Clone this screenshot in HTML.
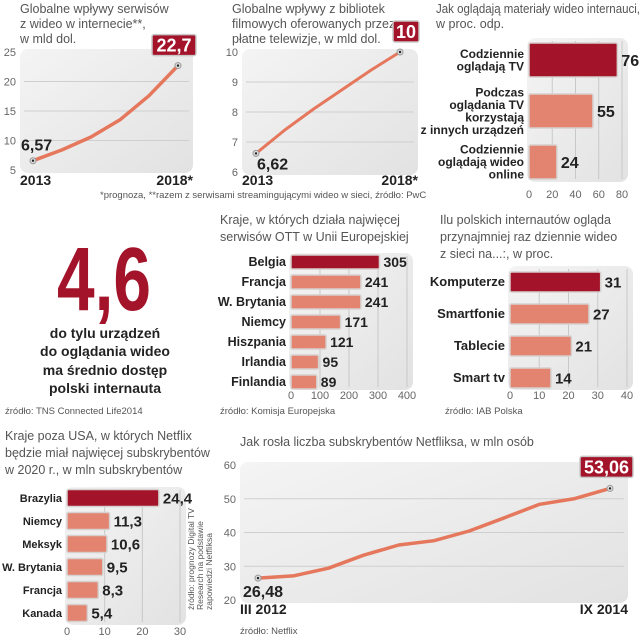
<!DOCTYPE html>
<html><head><meta charset="utf-8">
<style>
html,body{margin:0;padding:0;background:#fff;}
svg{display:block;font-family:"Liberation Sans Narrow","Liberation Sans",sans-serif;}
.t{fill:#555;font-size:12.5px;}
.ax{fill:#666;font-size:11px;}
.b{fill:#222;font-weight:bold;}
.v{fill:#222;font-weight:bold;}
.src{fill:#555;}
</style></head>
<body>
<svg id="s" width="642" height="640" viewBox="0 0 642 640">
<defs>
<linearGradient id="pg" x1="0" y1="0" x2="1" y2="1"><stop offset="0" stop-color="#f4f4f4"/><stop offset="1" stop-color="#e2e2e2"/></linearGradient>
</defs>
<g><text class="t" x="20" y="13">Globalne wpływy serwisów</text><text class="t" x="20" y="28">z wideo w internecie**,</text><text class="t" x="20" y="43">w mld dol.</text></g>
<g><text class="t" x="232" y="13">Globalne wpływy z bibliotek</text><text class="t" x="232" y="28">filmowych oferowanych przez</text><text class="t" x="232" y="43">płatne telewizje, w mld dol.</text></g>
<g><text class="t" x="436" y="13" textLength="204" lengthAdjust="spacingAndGlyphs">Jak oglądają materiały wideo internauci,</text><text class="t" x="436" y="28">w proc. odp.</text></g>
<text class="src" style="font-size:9.5px" x="100" y="198">*prognoza, **razem z serwisami streamingującymi wideo w sieci, źródło: PwC</text>
<g>
<text x="104" y="310" text-anchor="middle" fill="#a3142a" font-weight="bold" font-size="90" textLength="94" lengthAdjust="spacingAndGlyphs">4,6</text>
<text class="b" style="font-size:14px" x="105" y="338" text-anchor="middle">do tylu urządzeń</text>
<text class="b" style="font-size:14px" x="105" y="356" text-anchor="middle">do oglądania wideo</text>
<text class="b" style="font-size:14px" x="105" y="375" text-anchor="middle">ma średnio dostęp</text>
<text class="b" style="font-size:14px" x="105" y="393" text-anchor="middle">polski internauta</text>
<text class="src" style="font-size:9.5px" x="5" y="414">źródło: TNS Connected Life2014</text>
</g>
<g><text class="t" x="220" y="224">Kraje, w których działa najwięcej</text><text class="t" x="220" y="241">serwisów OTT w Unii Europejskiej</text></g>
<text class="src" style="font-size:9.5px" x="220" y="414">źródło: Komisja Europejska</text>
<g><text class="t" x="440" y="224">Ilu polskich internautów ogląda</text><text class="t" x="440" y="241">przynajmniej raz dziennie wideo</text><text class="t" x="440" y="258">z sieci na...:, w proc.</text></g>
<text class="src" style="font-size:9.5px" x="445" y="414">źródło: IAB Polska</text>
<g><text class="t" x="5" y="440">Kraje poza USA, w których Netflix</text><text class="t" x="5" y="457">będzie miał najwięcej subskrybentów</text><text class="t" x="5" y="474">w 2020 r., w mln subskrybentów</text></g>
<g transform="translate(206,610) rotate(-90)">
<text class="src" style="font-size:8.5px" x="0" y="-12">źródło: prognozy Digital TV</text><text class="src" style="font-size:8.5px" x="0" y="-3">Research na podstawie</text><text class="src" style="font-size:8.5px" x="0" y="6">zapowiedzi Netfliksa</text></g>
<text class="t" x="240" y="446">Jak rosła liczba subskrybentów Netfliksa, w mln osób</text>
<text class="src" style="font-size:9.5px" x="240" y="634">źródło: Netflix</text>
</svg>
<script>
const c1Years=['2013','2014','2015','2016','2017','2018*'];
const c1Values=[6.57,8.4,10.6,13.5,17.6,22.7];
const c1Ticks=[5,10,15,20,25];
const c2Years=['2013','2014','2015','2016','2017','2018*'];
const c2Values=[6.62,7.4,8.1,8.75,9.4,10];
const c2Ticks=[6,7,8,9,10];
const c3Labels=[['Codziennie','oglądają TV'],['Podczas','oglądania TV','korzystają','z innych urządzeń'],['Codziennie','oglądają wideo','online']];
const c3Values=[76,55,24];
const c3Ticks=[0,20,40,60,80];
const ottCountries=['Belgia','Francja','W. Brytania','Niemcy','Hiszpania','Irlandia','Finlandia'];
const ottValues=[305,241,241,171,121,95,89];
const ottTicks=[0,100,200,300,400];
const devLabels=['Komputerze','Smartfonie','Tablecie','Smart tv'];
const devValues=[31,27,21,14];
const devTicks=[0,10,20,30,40];
const nfxCountries=['Brazylia','Niemcy','Meksyk','W. Brytania','Francja','Kanada'];
const nfxValues=[24.4,11.3,10.6,9.5,8.3,5.4];
const nfxTicks=[0,10,20,30];
const subsQuarters=['III 2012','VI 2012','IX 2012','XII 2012','III 2013','VI 2013','IX 2013','XII 2013','III 2014','VI 2014','IX 2014'];
const subsValues=[26.48,27.15,29.41,33.27,36.31,37.56,40.43,44.35,48.35,50.05,53.06];
const subsTicks=[20,30,40,50,60];

const NS='http://www.w3.org/2000/svg';
const svg=document.getElementById('s');
function mk(tag,attrs,txt){const e=document.createElementNS(NS,tag);for(const k in attrs)e.setAttribute(k,attrs[k]);if(txt!==undefined)e.textContent=txt;svg.appendChild(e);return e;}
function fmt(v){return String(v).replace('.',',');}
const DARK='#a3142a',LIGHT='#e38470',LINE='#e5775c';

function lineChart(p,years,vals,ticks,name){
  const y=v=>p.y1-(v-ticks[0])/(ticks[ticks.length-1]-ticks[0])*(p.y1-p.y0);
  const x=i=>p.px0+i/(vals.length-1)*(p.px1-p.px0);
  let e=mk('rect',{x:p.bx0,y:p.y0-3,width:p.bx1-p.bx0,height:p.y1-p.y0+6,rx:8,fill:'url(#pg)'});
  
  
  ticks.forEach(t=>{
    if(t!==ticks[0]&&t!==ticks[ticks.length-1]){
      const g=mk('line',{x1:p.bx0+4,x2:p.bx1-4,y1:y(t),y2:y(t),stroke:'#cfcfcf','stroke-width':1});
      
      
    }
    const l=mk('text',{x:p.lx,y:y(t)+4,'text-anchor':'end',class:'ax'},String(t));
    
    
  });
  let d='';vals.forEach((v,i)=>{d+=(i?'L':'M')+x(i).toFixed(1)+','+y(v).toFixed(1);});
  const pa=mk('path',{d:d,fill:'none',stroke:LINE,'stroke-width':p.sw||3.5,'stroke-linejoin':'round','stroke-linecap':'round'});
  
  
  [0,vals.length-1].forEach(i=>{
    const c=mk('circle',{cx:x(i),cy:y(vals[i]),r:3,fill:'#ddd',stroke:'#999','stroke-width':1});
    
    
    const c2=mk('circle',{cx:x(i),cy:y(vals[i]),r:1.2,fill:'#222'});
    
    
  });
  const f=mk('text',{x:x(0)+p.fdx,y:y(vals[0])+p.fdy,class:'v',style:'font-size:16px'},fmt(vals[0]));
  
  
  const lv=fmt(vals[vals.length-1]);
  const w=lv.length*p.cw+8;
  const bx=p.boxR-w, by=y(vals[vals.length-1])+p.bdy;
  const r=mk('rect',{x:bx,y:by,width:w,height:21,rx:2,fill:DARK,stroke:'#c9c9c9','stroke-width':1.5});
  
  
  const lt=mk('text',{x:bx+w/2,y:by+17,'text-anchor':'middle',fill:'#fff','font-weight':'bold','font-size':18},lv);
  
  
  const a=mk('text',{x:p.bx0,y:p.ly,class:'b',style:'font-size:14px'},years[0]);
  
  
  const b=mk('text',{x:p.bx1,y:p.ly,class:'b','text-anchor':'end',style:'font-size:14px'},years[years.length-1]);
  
  
}
lineChart({bx0:20,bx1:193,y0:52,y1:170,px0:33,px1:178,lx:16,fdx:-12,fdy:-10,boxR:196,bdy:-31,cw:9,ly:185},c1Years,c1Values,c1Ticks,'chart1');
lineChart({bx0:242,bx1:418,y0:52,y1:172,px0:256,px1:400,lx:238,fdx:1,fdy:16,boxR:419,bdy:-31,cw:9,ly:185,sw:3},c2Years,c2Values,c2Ticks,'chart2');
lineChart({bx0:240,bx1:628,y0:465,y1:600,px0:258,px1:610,lx:236,fdx:-15,fdy:19,boxR:633,bdy:-32,cw:9,ly:614},[subsQuarters[0],'','',subsQuarters[subsQuarters.length-1]],subsValues,subsTicks,'subscribers');

function barChart(p,labels,vals,ticks,name){
  const max=ticks[ticks.length-1];
  const x=v=>p.x0+v/max*(p.x1-p.x0);
  let e=mk('rect',{x:p.x0-2,y:p.py0,width:p.x1-p.x0+8,height:p.py1-p.py0,rx:8,fill:'url(#pg)'});
  
  
  ticks.forEach(t=>{
    if(t>0){const g=mk('line',{x1:x(t),x2:x(t),y1:p.py0+3,y2:p.py1-3,stroke:'#c8c8c8','stroke-width':1});
    
    }
    const l=mk('text',{x:x(t),y:p.ty,'text-anchor':'middle',class:'ax'},String(t));
    
    
  });
  vals.forEach((v,i)=>{
    const cy=p.c0+i*p.step;
    const r=mk('rect',{x:x(0),y:cy-p.h/2,width:x(v)-x(0),height:p.h,rx:1.5,fill:i===0?DARK:LIGHT,stroke:'#d6d0ce','stroke-width':1.5});
    
    
    const vt=mk('text',{x:x(v)+4,y:cy+p.vfs*0.36,class:'v',style:'font-size:'+p.vfs+'px'},fmt(v));
    
    
    const lines=Array.isArray(labels[i])?labels[i]:[labels[i]];
    lines.forEach((ln,j)=>{
      const ly=cy+(j-(lines.length-1)/2)*p.lh+4;
      const t=mk('text',{x:x(0)-5,y:ly,'text-anchor':'end',class:'b',style:'font-size:'+p.lfs+'px'},ln);
      
      
    });
  });
}
barChart({x0:529,x1:622,py0:38,py1:182,ty:198,c0:60,step:51,h:34,vfs:16,lfs:12,lh:12.5},c3Labels,c3Values,c3Ticks,'viewing');
barChart({x0:291,x1:407,py0:253,py1:390,ty:399,c0:262,step:20,h:14,vfs:14,lfs:12.5,lh:13},ottCountries,ottValues,ottTicks,'ott');
barChart({x0:510,x1:627,py0:266,py1:390,ty:399,c0:282,step:32,h:20,vfs:15,lfs:13,lh:13},devLabels,devValues,devTicks,'devices');
barChart({x0:67,x1:180,py0:487,py1:625,ty:635,c0:498,step:23,h:17,vfs:15,lfs:11,lh:13},nfxCountries,nfxValues,nfxTicks,'netflix-countries');
</script>
</body></html>
